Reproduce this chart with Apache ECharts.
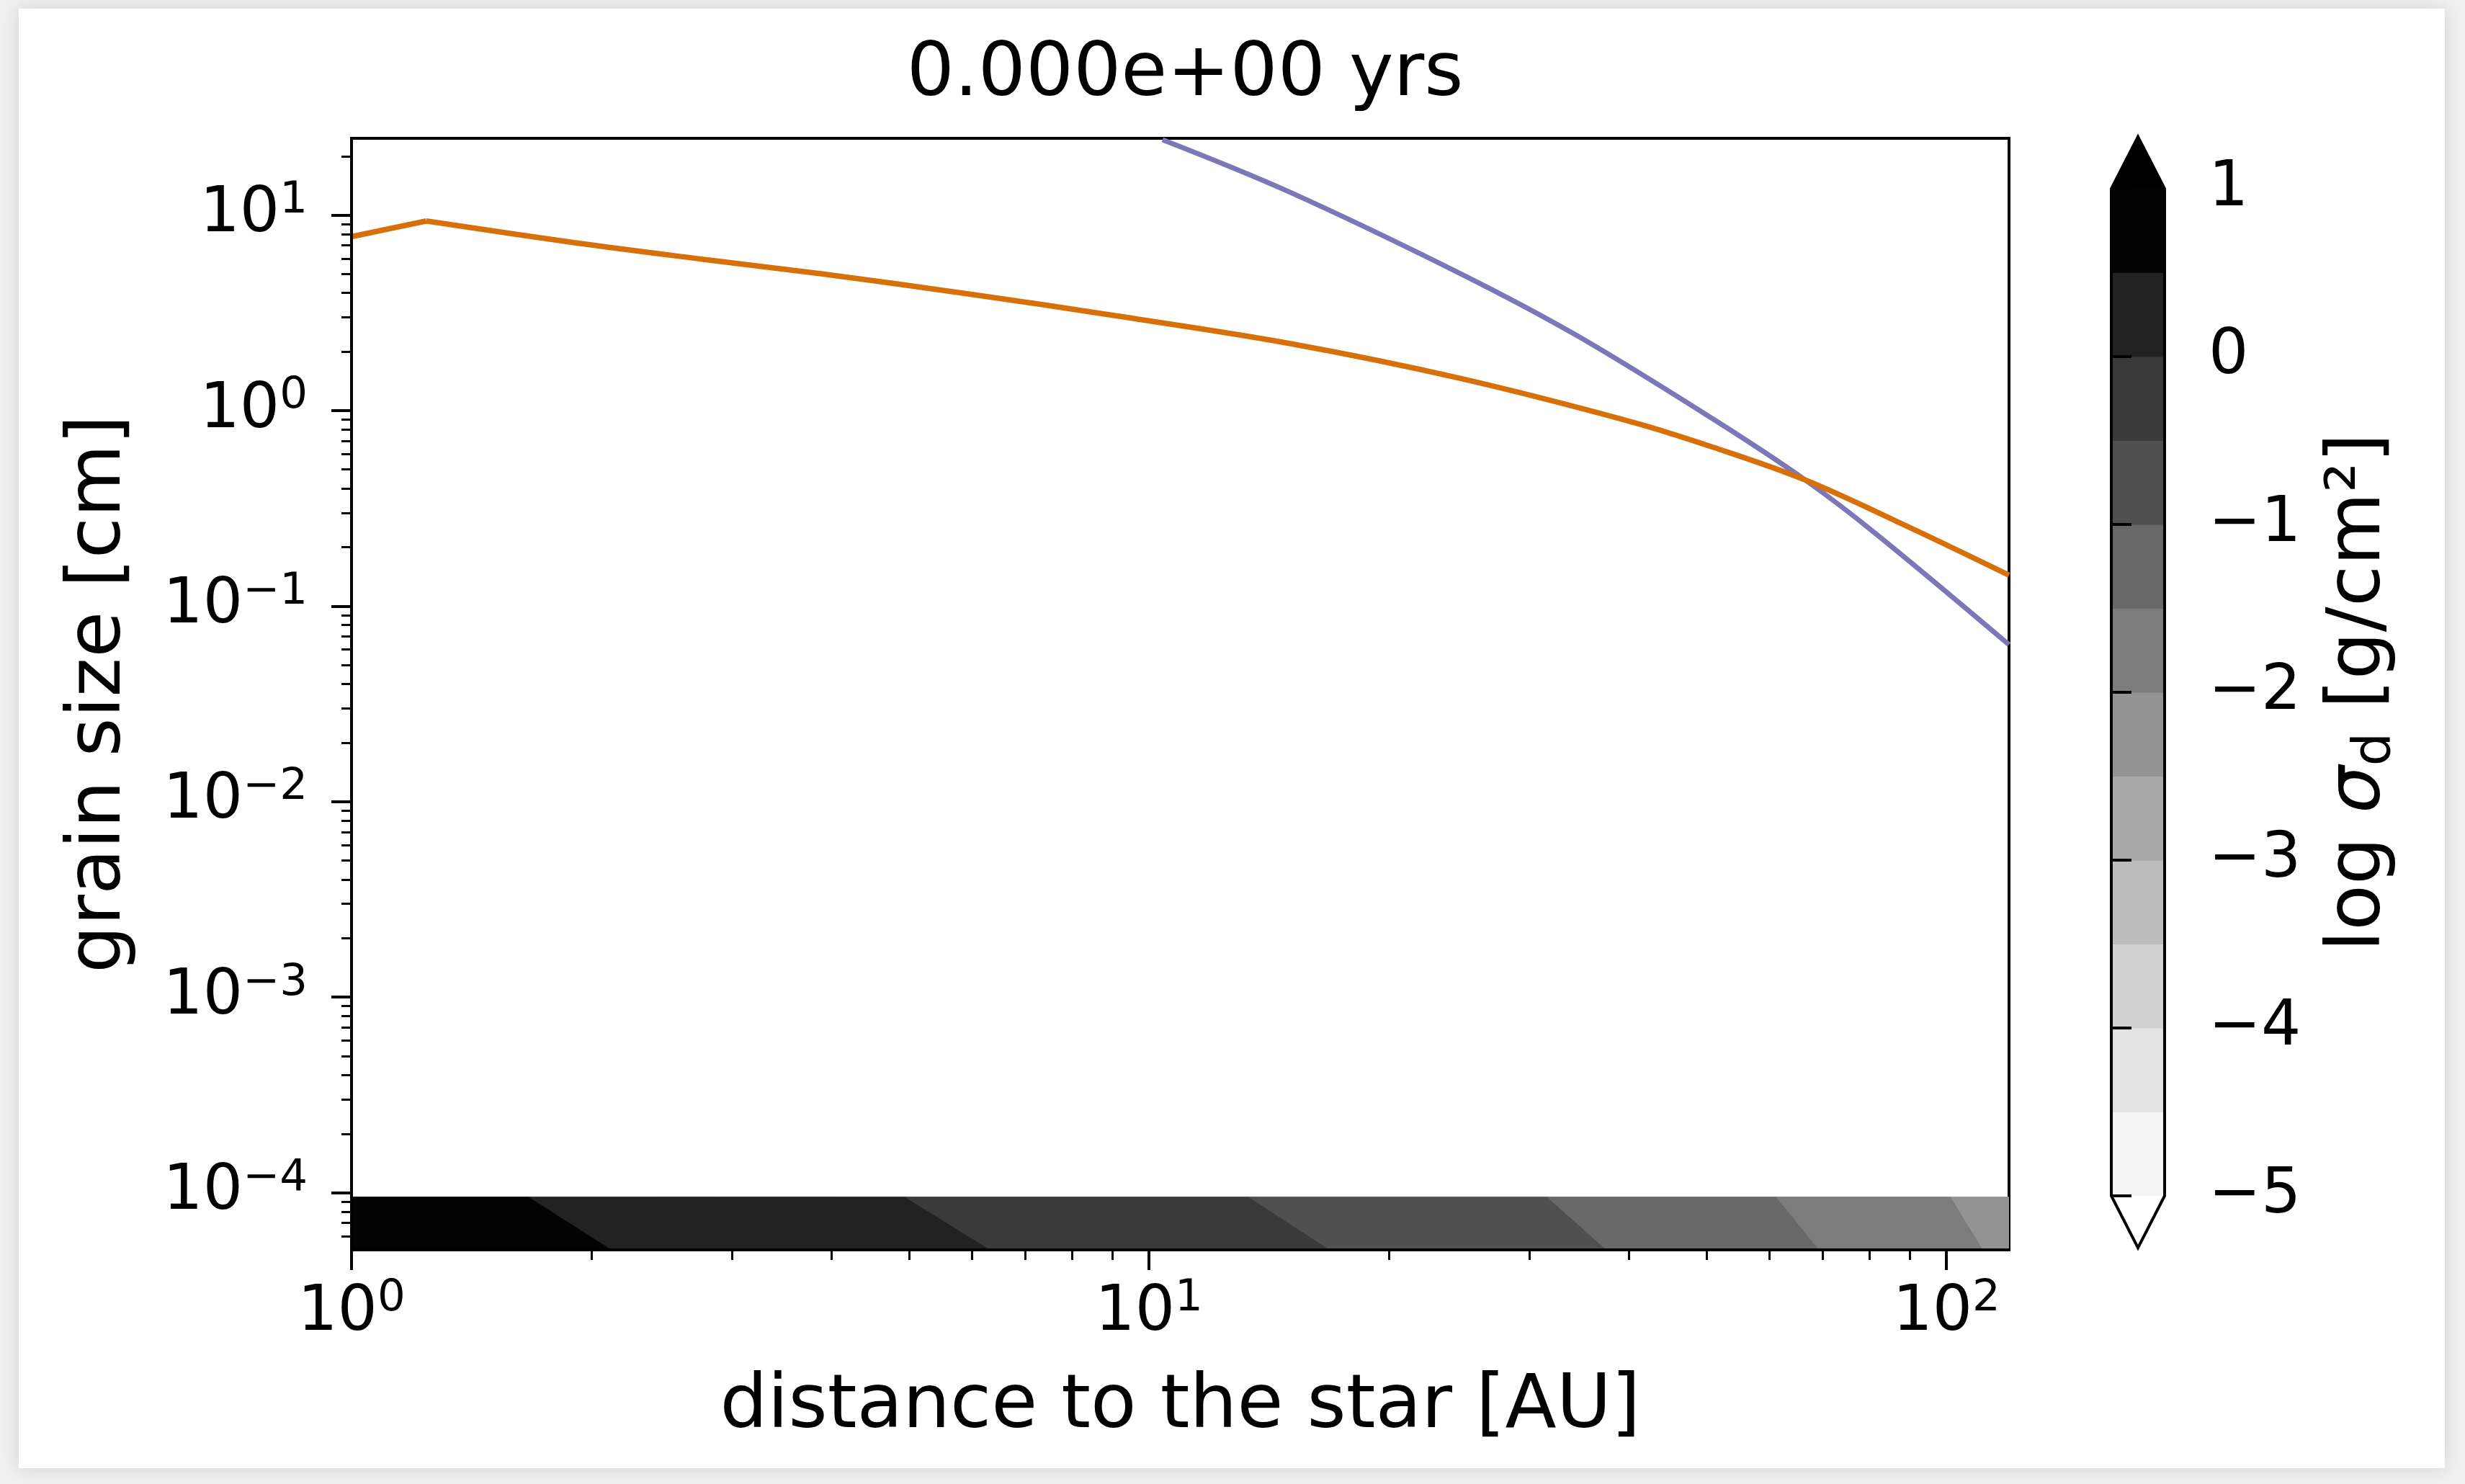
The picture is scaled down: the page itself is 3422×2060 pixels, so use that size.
<!DOCTYPE html>
<html><head><meta charset="utf-8">
<script src="https://cdn.jsdelivr.net/npm/echarts@6/dist/echarts.min.js"></script>
<style>html,body{margin:0;padding:0;background:#f0f0f0;} #c{width:3422px;height:2060px;}</style>
</head><body><div id="c"></div>
<script>
// ---------- data ----------
const titleText = '0.000e+00 yrs';
const xLabel = 'distance to the star [AU]';
const yLabel = 'grain size [cm]';
const xRange = [1, 119.8];
const yRange = [5.1e-5, 24.7];
const xMajorTicks = [1, 10, 100];
const yMajorTicks = [1e-4, 1e-3, 1e-2, 1e-1, 1, 10];

// orange curve (distance [AU], grain size [cm])
const orangeR = [1, 1.241, 1.90, 2.76, 3.88, 6.0, 9.11, 14.96, 24.6, 40.5, 51.2, 66.6, 89.1, 119.8];
const orangeA = [7.76, 9.33, 7.23, 5.94, 5.01, 3.93, 3.05, 2.21, 1.46, 0.871, 0.646, 0.441, 0.257, 0.144];
// purple curve
const purpleR = [10.4, 14.96, 24.6, 34.4, 51.2, 66.6, 81.3, 119.8];
const purpleA = [24.3, 13.2, 5.01, 2.42, 0.895, 0.440, 0.237, 0.0635];

// colour bar: contour levels of log sigma_d and their fills
const cbLevels = [-5, -4.5, -4, -3.5, -3, -2.5, -2, -1.5, -1, -0.5, 0, 0.5, 1];
const cbColors = ['#f5f5f5', '#e3e3e3', '#d2d2d2', '#bcbcbc', '#a8a8a8', '#939393', '#7c7c7c', '#686868', '#505050', '#3a3a3a', '#222222', '#030303'];
const cbUnder = '#ffffff';
const cbOver = '#000000';
const cbTicks = [-5, -4, -3, -2, -1, 0, 1];

// dust surface density band at the smallest grain size: contour edges
const bandEdgeLevels = [0.5, 0, -0.5, -1, -1.5, -2];
const bandEdgeTopR = [1.671, 4.95, 13.36, 31.6, 61.2, 101.3];
const bandEdgeBottomR = [2.123, 6.33, 16.87, 37.5, 69.3, 111.2];
const bandTopA = 9.5e-5;

// ---------- helpers ----------
const FONT = 'DejaVu Sans';
function minorTicks(lo, hi) {
  const out = [];
  for (let e = Math.floor(Math.log10(lo)); e <= Math.ceil(Math.log10(hi)); e++) {
    for (let k = 2; k <= 9; k++) {
      const v = k * Math.pow(10, e);
      if (v >= lo && v <= hi) out.push(v);
    }
  }
  return out;
}
function pow10Label(v) {
  const e = Math.round(Math.log10(v));
  return '10{s|' + (e < 0 ? '\u2212' + (-e) : e) + '}';
}
function colorFor(val) {
  if (val > cbLevels[cbLevels.length - 1]) return cbOver;
  if (val < cbLevels[0]) return cbUnder;
  for (let i = 0; i < cbColors.length; i++) {
    if (val >= cbLevels[i] && val <= cbLevels[i + 1]) return cbColors[i];
  }
  return cbOver;
}
const zip = (a, b) => a.map((v, i) => [v, b[i]]);

// band regions between successive contour edges
const bandRegions = [];
for (let i = 0; i <= bandEdgeLevels.length; i++) {
  const tl = i === 0 ? xRange[0] : bandEdgeTopR[i - 1];
  const bl = i === 0 ? xRange[0] : bandEdgeBottomR[i - 1];
  const tr = i === bandEdgeLevels.length ? xRange[1] : bandEdgeTopR[i];
  const br = i === bandEdgeLevels.length ? xRange[1] : bandEdgeBottomR[i];
  let mid;
  if (i === 0) mid = bandEdgeLevels[0] + 0.25;
  else if (i === bandEdgeLevels.length) mid = bandEdgeLevels[i - 1] - 0.25;
  else mid = (bandEdgeLevels[i - 1] + bandEdgeLevels[i]) / 2;
  bandRegions.push({ value: [tl, tr, bl, br, bandTopA, yRange[0]], fill: colorFor(mid) });
}

const labelRich = { s: { fontFamily: FONT, fontSize: 61, lineHeight: 60, verticalAlign: 'top', color: '#000' } };

const chart = echarts.init(document.getElementById('c'), null, { renderer: 'canvas' });
const ext = 0.31;
chart.setOption({
  animation: false,
  backgroundColor: '#f0f0f0',
  title: {
    text: titleText, left: 1640, top: 48, textAlign: 'center',
    textStyle: { fontFamily: FONT, fontSize: 104, fontWeight: 'normal', color: '#000' }
  },
  grid: [
    { left: 488, top: 192, width: 2301, height: 1543, show: true, borderColor: '#000', borderWidth: 4, backgroundColor: 'transparent' },
    { left: 2931, top: 262, width: 74, height: 1398 }
  ],
  xAxis: [
    { type: 'log', gridIndex: 0, min: xRange[0], max: xRange[1], position: 'bottom', z: 5,
      name: xLabel, nameLocation: 'middle', nameGap: 167,
      nameTextStyle: { fontFamily: FONT, fontSize: 104, color: '#000' },
      axisLine: { show: true, lineStyle: { color: '#000', width: 4 } },
      axisTick: { show: true, customValues: xMajorTicks, length: 28, lineStyle: { color: '#000', width: 4 } },
      axisLabel: { show: true, customValues: xMajorTicks, formatter: pow10Label, margin: 38,
        fontFamily: FONT, fontSize: 87, lineHeight: 100, color: '#000', rich: labelRich },
      splitLine: { show: false }, minorTick: { show: false } },
    { type: 'log', gridIndex: 0, min: xRange[0], max: xRange[1], position: 'bottom', z: 5,
      axisLine: { show: false }, axisLabel: { show: false }, splitLine: { show: false },
      axisTick: { show: true, customValues: minorTicks(xRange[0], xRange[1]), length: 14, lineStyle: { color: '#000', width: 3 } } },
    { type: 'value', gridIndex: 1, min: 0, max: 1, show: false }
  ],
  yAxis: [
    { type: 'log', gridIndex: 0, min: yRange[0], max: yRange[1], position: 'left', z: 5,
      name: yLabel, nameLocation: 'middle', nameGap: 297, nameRotate: 90,
      nameTextStyle: { fontFamily: FONT, fontSize: 104, color: '#000' },
      axisLine: { show: true, lineStyle: { color: '#000', width: 4 } },
      axisTick: { show: true, customValues: yMajorTicks, length: 28, lineStyle: { color: '#000', width: 4 } },
      axisLabel: { show: true, customValues: yMajorTicks, formatter: pow10Label, margin: 61,
        fontFamily: FONT, fontSize: 87, lineHeight: 100, color: '#000', rich: labelRich },
      splitLine: { show: false }, minorTick: { show: false } },
    { type: 'log', gridIndex: 0, min: yRange[0], max: yRange[1], position: 'left', z: 5,
      axisLine: { show: false }, axisLabel: { show: false }, splitLine: { show: false },
      axisTick: { show: true, customValues: minorTicks(yRange[0], yRange[1]), length: 14, lineStyle: { color: '#000', width: 3 } } },
    { type: 'value', gridIndex: 1, min: -5, max: 1, interval: 1, position: 'right', z: 5,
      axisLine: { show: false }, splitLine: { show: false },
      axisTick: { show: true, length: 28, lineStyle: { color: '#000', width: 4 } },
      axisLabel: { show: true, margin: 61, fontFamily: FONT, fontSize: 87, color: '#000',
        formatter: v => (v < 0 ? '\u2212' + (-v) : String(v)) } }
  ],
  graphic: [
    { type: 'rect', z: -100, silent: true, shape: { x: 26, y: 12, width: 3368, height: 2026 },
      style: { fill: '#ffffff', shadowBlur: 24, shadowColor: 'rgba(0,0,0,0.12)' } },
    { type: 'text', x: 3276, y: 961, rotation: Math.PI / 2, z: 10,
      style: { text: 'log {i|σ}{sub|d} [g/cm²]', fontFamily: FONT, fontSize: 104, fill: '#000',
        align: 'center', verticalAlign: 'middle', lineHeight: 120,
        rich: { i: { fontFamily: FONT, fontSize: 104, fontStyle: 'italic', lineHeight: 120 },
                sub: { fontFamily: FONT, fontSize: 73, lineHeight: 84, verticalAlign: 'bottom' } } } }
  ],
  series: [
    { type: 'custom', name: 'band', xAxisIndex: 0, yAxisIndex: 0, clip: true, z: 1,
      encode: { x: [0, 1, 2, 3], y: [4, 5] },
      data: bandRegions.map(r => r.value),
      renderItem: (params, api) => {
        const r = bandRegions[params.dataIndex];
        const tl = api.coord([api.value(0), api.value(4)]);
        const tr = api.coord([api.value(1), api.value(4)]);
        const br = api.coord([api.value(3), api.value(5)]);
        const bl = api.coord([api.value(2), api.value(5)]);
        return { type: 'polygon', shape: { points: [tl, tr, br, bl] }, style: { fill: r.fill, stroke: r.fill, lineWidth: 1 } };
      } },
    { type: 'line', name: 'orange-inner', xAxisIndex: 0, yAxisIndex: 0, data: zip(orangeR.slice(0, 2), orangeA.slice(0, 2)),
      showSymbol: false, symbol: 'none', lineStyle: { color: '#d8700a', width: 7.5 }, z: 4 },
    { type: 'line', name: 'orange', xAxisIndex: 0, yAxisIndex: 0, data: zip(orangeR.slice(1), orangeA.slice(1)),
      smooth: 0.35, showSymbol: false, symbol: 'none', lineStyle: { color: '#d8700a', width: 7.5 }, z: 4 },
    { type: 'line', name: 'purple', xAxisIndex: 0, yAxisIndex: 0, data: zip(purpleR, purpleA),
      smooth: 0.35, showSymbol: false, symbol: 'none', lineStyle: { color: '#7c78b8', width: 7 }, z: 3 },
    { type: 'custom', name: 'colorbar', xAxisIndex: 2, yAxisIndex: 2, z: 2,
      encode: { x: [0, 1], y: [2, 3] },
      data: cbColors.map((c, i) => [0, 1, cbLevels[i], cbLevels[i + 1]]),
      renderItem: (params, api) => {
        const p0 = api.coord([api.value(0), api.value(3)]);
        const p1 = api.coord([api.value(1), api.value(2)]);
        const c = cbColors[params.dataIndex];
        return { type: 'rect', shape: { x: p0[0], y: p0[1], width: p1[0] - p0[0], height: p1[1] - p0[1] },
          style: { fill: c, stroke: c, lineWidth: 1 } };
      } },
    { type: 'custom', name: 'colorbar-frame', xAxisIndex: 2, yAxisIndex: 2, z: 3,
      encode: { x: [0, 1], y: [2, 3] },
      data: [[0, 1, cbLevels[0], cbLevels[cbLevels.length - 1]]],
      renderItem: (params, api) => {
        const lo = api.value(2), hi = api.value(3);
        const c = (x, y) => api.coord([x, y]);
        return { type: 'group', children: [
          { type: 'polygon', shape: { points: [c(0, hi), c(1, hi), c(0.5, hi + ext)] }, style: { fill: cbOver } },
          { type: 'polygon', shape: { points: [c(0, lo), c(1, lo), c(0.5, lo - ext)] }, style: { fill: cbUnder } },
          { type: 'polygon', shape: { points: [c(0, lo), c(0, hi), c(0.5, hi + ext), c(1, hi), c(1, lo), c(0.5, lo - ext)] },
            style: { fill: 'none', stroke: '#000', lineWidth: 4, lineJoin: 'miter' } }
        ] };
      } }
  ]
});
</script></body></html>
